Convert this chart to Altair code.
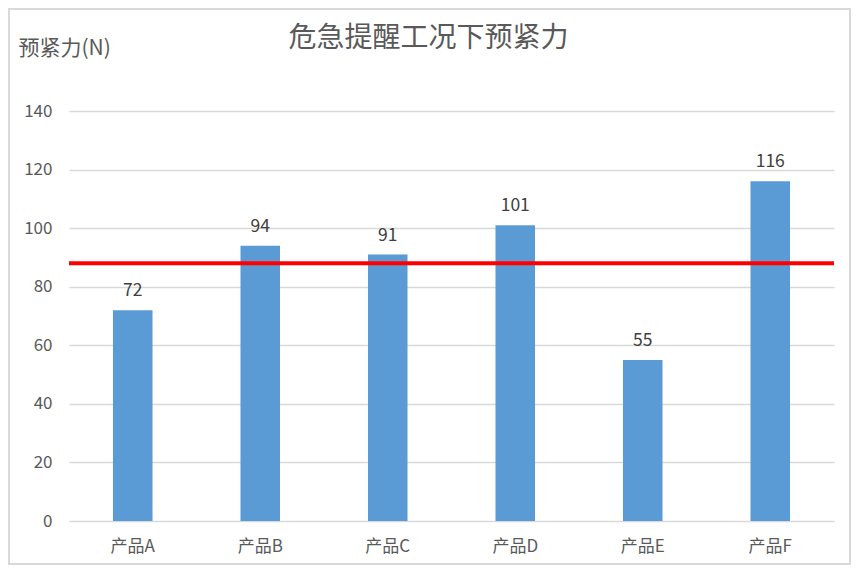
import altair as alt
import pandas as pd

products = ["产品A", "产品B", "产品C", "产品D", "产品E", "产品F"]
values = [72, 94, 91, 101, 55, 116]
threshold = [88]

df = pd.DataFrame({"product": products, "value": values})
FONT = "Noto Sans CJK SC"

x_enc = alt.X("product:N", sort=products, title=None,
              scale=alt.Scale(paddingInner=0.69, paddingOuter=0.345),
              axis=alt.Axis(labelAngle=0, ticks=False, domain=False, labelPadding=17,
                            labelFontSize=17, labelColor="#595959", labelFont=FONT))
y_enc = alt.Y("value:Q", scale=alt.Scale(domain=[0, 140]),
              axis=alt.Axis(values=[0, 20, 40, 60, 80, 100, 120, 140], ticks=False, domain=False,
                            grid=True, gridColor="#D9D9D9", gridWidth=1.3,
                            labelPadding=17, labelFontSize=17, labelColor="#595959", labelFont=FONT,
                            title="预紧力(N)", titleAngle=0, titleX=-51, titleY=-63,
                            titleAlign="left", titleBaseline="middle", titleFontSize=21,
                            titleFontWeight="normal", titleColor="#595959", titleFont=FONT))

base = alt.Chart(df)
bars = base.mark_bar(color="#5B9BD5").encode(x=x_enc, y=y_enc)
labels = base.mark_text(dy=-19, fontSize=17.5, color="#404040", font=FONT).encode(
    x=alt.X("product:N", sort=products), y="value:Q", text="value:Q")
rule = alt.Chart(pd.DataFrame({"t": threshold})).mark_rule(color="#FF0000", strokeWidth=4).encode(
    y="t:Q")
border = alt.Chart(pd.DataFrame({"a": [0]})).mark_rect(
    fill=None, stroke="#D9D9D9", strokeWidth=2).encode(
    x=alt.value(-60), x2=alt.value(781), y=alt.value(-102), y2=alt.value(453))

chart = alt.layer(bars, labels, rule, border).properties(
    width=765, height=410,
    autosize=alt.AutoSizeParams(type="none"),
    padding={"left": 61, "top": 103, "right": 17, "bottom": 44},
    title=alt.TitleParams("危急提醒工况下预紧力", font=FONT, fontSize=28, fontWeight="normal",
                          color="#595959", anchor="middle", dx=-23, offset=0, dy=45),
).configure_view(stroke=None)

chart.save("out.html", embed_options={"renderer": "svg", "actions": False})
